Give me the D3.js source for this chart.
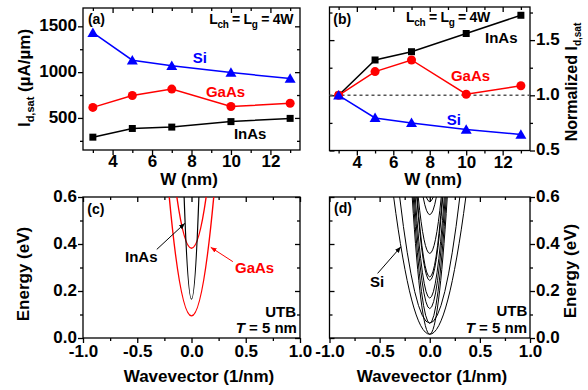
<!DOCTYPE html>
<html>
<head>
<meta charset="utf-8">
<script src="https://cdn.jsdelivr.net/npm/d3@7"></script>
<style>
  body { margin: 0; background: #fff; }
  svg { display: block; font-family: "Liberation Sans", Arial, sans-serif; font-weight: bold; }
</style>
</head>
<body>
<div id="chart"></div>
<script>
// (a) / (b): drive current vs. body width
const widths = [3, 5, 7, 10, 13];
const siCurrent = [1430, 1130, 1070, 995, 930];
const gaasCurrent = [615, 745, 815, 625, 660];
const inasCurrent = [290, 385, 400, 460, 495];
const siNorm = [1, 0.795, 0.75, 0.69, 0.645];
const gaasNorm = [1, 1.215, 1.32, 1.01, 1.087];
const inasNorm = [1, 1.32, 1.395, 1.56, 1.725];

// (c) / (d): subband minima (eV) and |k| (1/nm) where each band leaves the frame top (0.6 eV)
const inasBandMin = [0.165];
const inasBandEdge = [0.068];
const gaasBandMin = [0.094, 0.382];
const gaasBandEdge = [0.205, 0.135];
const siBandMin = [0.016, 0.063, 0.016, 0.063, 0.125, 0.17, 0.245, 0.26, 0.36, 0.525, 0.58];
const siBandEdge = [0.36, 0.30, 0.175, 0.165, 0.155, 0.145, 0.13, 0.125, 0.115, 0.066, 0.035];

// ticks
const wTicks = [4, 6, 8, 10, 12];
const wMinor = [3, 5, 7, 9, 11, 13];
const currentTicks = [500, 1000, 1500];
const currentMinor = [250, 750, 1250];
const normTicks = [0.5, 1.0, 1.5];
const normMinor = [0.75, 1.25, 1.75];
const kTicks = [-1, -0.5, 0, 0.5, 1];
const kMinor = [-0.75, -0.25, 0.25, 0.75];
const eTicks = [0, 0.2, 0.4, 0.6];
const eMinor = [0.1, 0.3, 0.5];

const FONT = '"Liberation Sans", Arial, sans-serif';
const RED = '#ff0000';
const BLUE = '#0000ff';

const svg = d3.select('#chart').append('svg')
  .attr('width', 588)
  .attr('height', 390);

svg.append('rect').attr('width', 588).attr('height', 390).attr('fill', '#fff');

const defs = svg.append('defs');
[['arrowBlack', '#000'], ['arrowRed', RED]].forEach(([id, c]) => {
  defs.append('marker')
    .attr('id', id)
    .attr('viewBox', '0 -5 10 10')
    .attr('refX', 10)
    .attr('refY', 0)
    .attr('markerWidth', 6)
    .attr('markerHeight', 6)
    .attr('markerUnits', 'userSpaceOnUse')
    .attr('orient', 'auto')
    .append('path')
    .attr('d', 'M0,-4L10,0L0,4Z')
    .attr('fill', c);
});

function styleAxis(sel, size) {
  sel.attr('font-family', FONT).attr('font-size', size).attr('font-weight', 'bold');
  sel.select('.domain').remove();
  sel.selectAll('line').attr('stroke', '#000').attr('stroke-width', 1.3);
  sel.selectAll('text').attr('fill', '#000');
}

function panel(box, xDomain, yDomain, opt) {
  const g = svg.append('g');
  const x = d3.scaleLinear().domain(xDomain).range([box.x0, box.x1]);
  const y = d3.scaleLinear().domain(yDomain).range([box.y1, box.y0]);

  // bottom (labelled, outward)
  g.append('g').attr('transform', `translate(0,${box.y1})`)
    .call(d3.axisBottom(x).tickValues(opt.xMajor).tickSize(5).tickPadding(opt.xPad).tickFormat(opt.xFmt))
    .call(s => styleAxis(s, 17));
  g.append('g').attr('transform', `translate(0,${box.y1})`)
    .call(d3.axisBottom(x).tickValues(opt.xMinor).tickSize(3).tickFormat(''))
    .call(s => styleAxis(s, 17));
  // top (mirror, inward)
  g.append('g').attr('transform', `translate(0,${box.y0})`)
    .call(d3.axisTop(x).tickValues(opt.xMajor).tickSize(-5).tickFormat(''))
    .call(s => styleAxis(s, 17));
  g.append('g').attr('transform', `translate(0,${box.y0})`)
    .call(d3.axisTop(x).tickValues(opt.xMinor).tickSize(-3).tickFormat(''))
    .call(s => styleAxis(s, 17));

  const labelSide = opt.yRight ? box.x1 : box.x0;
  const mirrorSide = opt.yRight ? box.x0 : box.x1;
  const outer = opt.yRight ? d3.axisRight : d3.axisLeft;
  const inner = opt.yRight ? d3.axisLeft : d3.axisRight;

  g.append('g').attr('transform', `translate(${labelSide},0)`)
    .call(outer(y).tickValues(opt.yMajor).tickSize(5).tickPadding(1).tickFormat(opt.yFmt))
    .call(s => styleAxis(s, 17))
    .call(s => s.selectAll('text').attr('dy', '0.26em'));
  g.append('g').attr('transform', `translate(${labelSide},0)`)
    .call(outer(y).tickValues(opt.yMinor).tickSize(3).tickFormat(''))
    .call(s => styleAxis(s, 17));
  g.append('g').attr('transform', `translate(${mirrorSide},0)`)
    .call(inner(y).tickValues(opt.yMajor).tickSize(-5).tickFormat(''))
    .call(s => styleAxis(s, 17));
  g.append('g').attr('transform', `translate(${mirrorSide},0)`)
    .call(inner(y).tickValues(opt.yMinor).tickSize(-3).tickFormat(''))
    .call(s => styleAxis(s, 17));

  g.append('rect')
    .attr('x', box.x0).attr('y', box.y0)
    .attr('width', box.x1 - box.x0).attr('height', box.y1 - box.y0)
    .attr('fill', 'none').attr('stroke', '#000').attr('stroke-width', 1.3);

  return { g, x, y };
}

function label(g, x, y, text, size, color, anchor) {
  return g.append('text')
    .attr('x', x).attr('y', y)
    .attr('font-size', size)
    .attr('fill', color || '#000')
    .attr('text-anchor', anchor || 'start')
    .text(text);
}

function lchLabel(g, x, y, anchor) {
  const t = g.append('text').attr('x', x).attr('y', y).attr('font-size', 14)
    .attr('text-anchor', anchor).attr('letter-spacing', -0.3);
  t.append('tspan').text('L');
  t.append('tspan').attr('font-size', 10).attr('dy', 4).text('ch');
  t.append('tspan').attr('dy', -4).text(' = L');
  t.append('tspan').attr('font-size', 10).attr('dy', 4).text('g');
  t.append('tspan').attr('dy', -4).text(' = 4W');
}

function markers(g, x, y, vals, shape, color) {
  const sym = shape === 'square' ? d3.symbolSquare : shape === 'circle' ? d3.symbolCircle : d3.symbolTriangle;
  const size = shape === 'square' ? 49 : shape === 'circle' ? 64 : 52;
  const shift = shape === 'triangle' ? 1 : 0;
  g.selectAll(null)
    .data(vals)
    .join('path')
    .attr('transform', (d, i) => `translate(${x(widths[i])},${y(d) + shift})`)
    .attr('d', d3.symbol().type(sym).size(size))
    .attr('fill', color);
}

function seriesPanel(p, series) {
  const line = d3.line().x((d, i) => p.x(widths[i])).y(d => p.y(d));
  series.forEach(s => {
    p.g.append('path')
      .attr('d', line(s.vals))
      .attr('fill', 'none')
      .attr('stroke', s.color)
      .attr('stroke-width', 1.5);
    markers(p.g, p.x, p.y, s.vals, s.shape, s.color);
  });
}

// parabola through (-edge, 0.6), (0, min), (edge, 0.6) as a quadratic Bezier
function bands(p, mins, edges, color, width) {
  p.g.selectAll(null)
    .data(mins)
    .join('path')
    .attr('d', (m, i) => {
      const path = d3.path();
      path.moveTo(p.x(-edges[i]), p.y(0.6));
      path.quadraticCurveTo(p.x(0), p.y(2 * m - 0.6), p.x(edges[i]), p.y(0.6));
      return path.toString();
    })
    .attr('fill', 'none')
    .attr('stroke', color)
    .attr('stroke-width', width);
}

function arrow(p, from, to, color, id) {
  p.g.append('line')
    .attr('x1', p.x(from[0])).attr('y1', p.y(from[1]))
    .attr('x2', p.x(to[0])).attr('y2', p.y(to[1]))
    .attr('stroke', color).attr('stroke-width', 1)
    .attr('marker-end', `url(#${id})`);
}

const fmtInt = d3.format('d');
const fmtOne = d => d.toFixed(1);

// ---- (a)
const pa = panel({ x0: 83, x1: 300, y0: 8, y1: 150 }, [2.5, 13.5], [150, 1700], {
  xMajor: wTicks, xMinor: wMinor, xFmt: fmtInt, xPad: 0,
  yMajor: currentTicks, yMinor: currentMinor, yFmt: fmtInt, yRight: false
});
seriesPanel(pa, [
  { vals: inasCurrent, color: '#000', shape: 'square' },
  { vals: gaasCurrent, color: RED, shape: 'circle' },
  { vals: siCurrent, color: BLUE, shape: 'triangle' }
]);
label(pa.g, pa.x(2.75), pa.y(1525), '(a)', 14);
lchLabel(pa.g, pa.x(13.15), pa.y(1525), 'end');
label(pa.g, pa.x(8.06), pa.y(1103), 'Si', 15, BLUE);
label(pa.g, pa.x(8.73), pa.y(725), 'GaAs', 15, RED);
label(pa.g, pa.x(10.15), pa.y(270), 'InAs', 15);

// ---- (b)
const pb = panel({ x0: 329.5, x1: 530, y0: 7, y1: 150.5 }, [2.5, 13.5], [0.5, 1.8], {
  xMajor: wTicks, xMinor: wMinor, xFmt: fmtInt, xPad: 0,
  yMajor: normTicks, yMinor: normMinor, yFmt: fmtOne, yRight: true
});
pb.g.append('line')
  .attr('x1', pb.x(2.5)).attr('x2', pb.x(13.5))
  .attr('y1', pb.y(1)).attr('y2', pb.y(1))
  .attr('stroke', '#555').attr('stroke-width', 1.5).attr('stroke-dasharray', '3,3');
seriesPanel(pb, [
  { vals: inasNorm, color: '#000', shape: 'square' },
  { vals: gaasNorm, color: RED, shape: 'circle' },
  { vals: siNorm, color: BLUE, shape: 'triangle' }
]);
label(pb.g, pb.x(2.71), pb.y(1.646), '(b)', 14);
lchLabel(pb.g, pb.x(6.7), pb.y(1.664), 'start');
label(pb.g, pb.x(11.03), pb.y(1.478), 'InAs', 15);
label(pb.g, pb.x(9.16), pb.y(1.13), 'GaAs', 15, RED);
label(pb.g, pb.x(8.93), pb.y(0.731), 'Si', 15, BLUE);

// ---- (c)
const pc = panel({ x0: 83, x1: 300, y0: 197, y1: 338 }, [-1, 1], [0, 0.6], {
  xMajor: kTicks, xMinor: kMinor, xFmt: fmtOne, xPad: 2,
  yMajor: eTicks, yMinor: eMinor, yFmt: fmtOne, yRight: false
});
bands(pc, gaasBandMin, gaasBandEdge, RED, 1.4);
bands(pc, inasBandMin, inasBandEdge, '#000', 1.2);
arrow(pc, [-0.32, 0.377], [-0.061, 0.488], '#000', 'arrowBlack');
arrow(pc, [0.381, 0.325], [0.177, 0.386], RED, 'arrowRed');
label(pc.g, pc.x(-0.96), pc.y(0.528), '(c)', 14);
label(pc.g, pc.x(-0.613), pc.y(0.323), 'InAs', 15);
label(pc.g, pc.x(0.401), pc.y(0.277), 'GaAs', 15, RED);
label(pc.g, pc.x(0.963), pc.y(0.089), 'UTB', 15, '#000', 'end');
const tc = label(pc.g, pc.x(0.972), pc.y(0.021), '', 15, '#000', 'end');
tc.append('tspan').attr('font-style', 'italic').text('T');
tc.append('tspan').text(' = 5 nm');

// ---- (d)
const pd = panel({ x0: 329.5, x1: 530, y0: 197, y1: 338 }, [-1, 1], [0, 0.6], {
  xMajor: kTicks, xMinor: kMinor, xFmt: fmtOne, xPad: 2,
  yMajor: eTicks, yMinor: eMinor, yFmt: fmtOne, yRight: true
});
bands(pd, siBandMin, siBandEdge, '#000', 1);
arrow(pd, [-0.52, 0.275], [-0.288, 0.388], '#000', 'arrowBlack');
label(pd.g, pd.x(-0.955), pd.y(0.532), '(d)', 14);
label(pd.g, pd.x(-0.596), pd.y(0.218), 'Si', 15);
label(pd.g, pd.x(0.973), pd.y(0.094), 'UTB', 15, '#000', 'end');
const td = label(pd.g, pd.x(0.97), pd.y(0.021), '', 15, '#000', 'end');
td.append('tspan').attr('font-style', 'italic').text('T');
td.append('tspan').text(' = 5 nm');

// ---- axis titles
label(svg, 189, 185, 'W (nm)', 17, '#000', 'middle');
label(svg, 433, 185, 'W (nm)', 17, '#000', 'middle');
label(svg, 199, 382, 'Wavevector (1/nm)', 17, '#000', 'middle');
label(svg, 432, 382, 'Wavevector (1/nm)', 17, '#000', 'middle');

const ya = svg.append('text').attr('transform', 'translate(30,78) rotate(-90)')
  .attr('text-anchor', 'middle').attr('font-size', 17);
ya.append('tspan').text('I');
ya.append('tspan').attr('font-size', 11).attr('dy', 4).text('d,sat');
ya.append('tspan').attr('dy', -4).text(' (µA/µm)');

const yb = svg.append('text').attr('transform', 'translate(577,82) rotate(-90)')
  .attr('text-anchor', 'middle').attr('font-size', 16);
yb.append('tspan').text('Normalized I');
yb.append('tspan').attr('font-size', 10).attr('dy', 4).text('d,sat');

svg.append('text').attr('transform', 'translate(29,274) rotate(-90)')
  .attr('text-anchor', 'middle').attr('font-size', 17).text('Energy (eV)');
svg.append('text').attr('transform', 'translate(576,271) rotate(-90)')
  .attr('text-anchor', 'middle').attr('font-size', 17).text('Energy (eV)');
</script>
</body>
</html>
